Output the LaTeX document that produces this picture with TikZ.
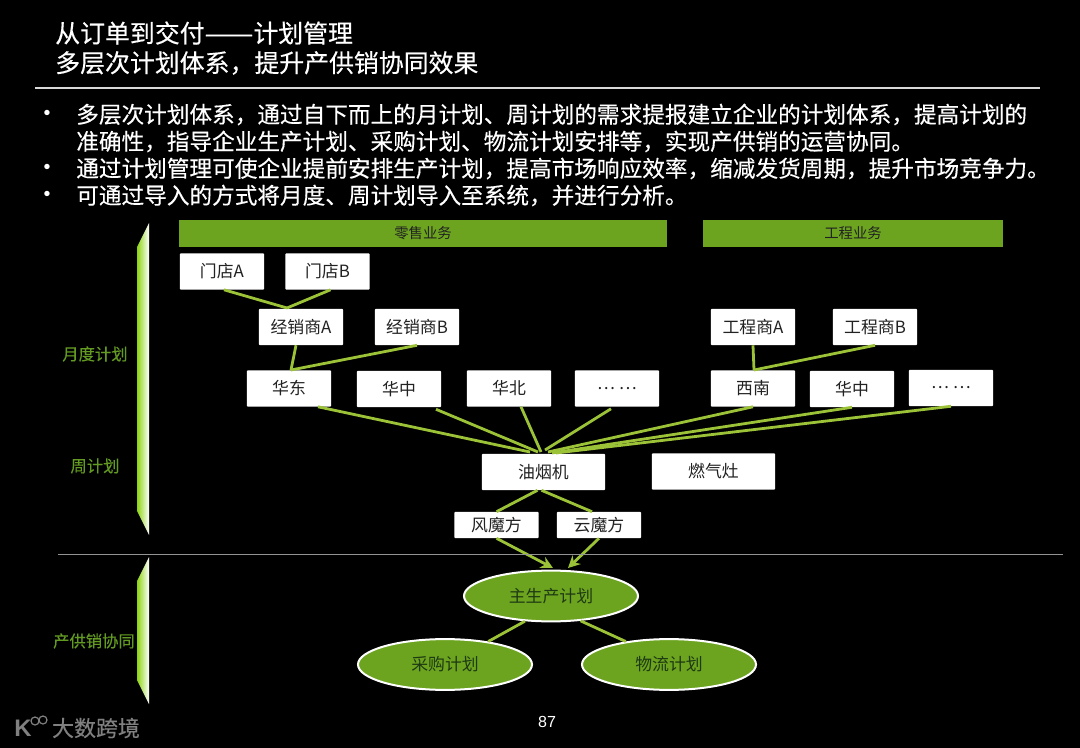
\documentclass[tikz,border=0pt]{standalone}
\usepackage{fontspec}
\setmainfont{Noto Sans CJK SC}
\newfontfamily\latinfont{Liberation Sans}
\newfontfamily\heavyfont[FakeBold=0.35]{Noto Sans CJK SC}
\usetikzlibrary{shapes,shapes.geometric,arrows,positioning,calc,arrows.meta}
\definecolor{barGreen}{HTML}{6CA420}
\definecolor{lineGreen}{HTML}{9CC238}
\definecolor{limeGreen}{HTML}{8CD410}
\definecolor{labelGreen}{HTML}{639A22}
\definecolor{inkDark}{HTML}{222222}
\definecolor{inkGreen}{HTML}{1E3A12}

\begin{document}
\begin{tikzpicture}[
    x=0.025cm, y=-0.025cm,
    every node/.style={font=\fontsize{12pt}{14pt}\selectfont},
    box/.style={rectangle, fill=white, text=inkDark, inner sep=0pt, minimum width=2.1cm, minimum height=0.9cm, rounded corners=0.5pt},
    bigbox/.style={box, minimum width=3.08cm},
    smallbox/.style={box, minimum height=0.65cm},
    header/.style={rectangle, fill=barGreen, text=inkDark, inner sep=0pt, minimum height=0.675cm, font=\fontsize{10.2pt}{12pt}\selectfont},
    plan/.style={ellipse, draw=white, line width=0.05cm, fill=barGreen, text=inkGreen, inner sep=0pt, minimum width=4.35cm, minimum height=1.27cm},
    side/.style={text=labelGreen, inner sep=0pt, font=\heavyfont\fontsize{11.6pt}{13pt}\selectfont},
    title/.style={anchor=west, text=white, inner sep=0pt, font=\heavyfont\fontsize{17.7pt}{20pt}\selectfont},
    bullet/.style={anchor=west, text=white, inner sep=0pt, font=\heavyfont\fontsize{16.1pt}{18pt}\selectfont},
    dotmark/.style={anchor=center, text=white, inner sep=0pt, font=\latinfont\fontsize{14pt}{16pt}\selectfont},
    link/.style={lineGreen, line width=0.07cm},
    arrow/.style={link, -{Stealth[length=0.3cm, width=0.3cm]}},
    sidebar/.style={left color=limeGreen, middle color=limeGreen!75!white, right color=white}
]
\fill[black] (0,0) rectangle (1080,748);
\useasboundingbox (0,0) rectangle (1080,748);

% Title
\node[title] (title1) at (55,33) {从订单到交付\scalebox{1.17}[1]{——}计划管理};
\node[title] (title2) at (55,63) {多层次计划体系，提升产供销协同效果};
\draw[white!85!black, line width=0.035cm] (35,88) -- (1040,88);

% Bullet text
\node[dotmark] (dot1) at (47,115) {•};
\node[dotmark] (dot2) at (47,169) {•};
\node[dotmark] (dot3) at (47,196) {•};
\node[bullet] (line1) at (76,114.5) {多层次计划体系，通过自下而上的月计划、周计划的需求提报建立企业的计划体系，提高计划的};
\node[bullet] (line2) at (76,141.5) {准确性，指导企业生产计划、采购计划、物流计划安排等，实现产供销的运营协同。};
\node[bullet] (line3) at (76,168.5) {通过计划管理可使企业提前安排生产计划，提高市场响应效率，缩减发货周期，提升市场竞争力。};
\node[bullet] (line4) at (76,195.5) {可通过导入的方式将月度、周计划导入至系统，并进行分析。};

% Side bars
\shade[sidebar] (149,223) -- (137,247) -- (137,511) -- (149,535) -- cycle;
\shade[sidebar] (149,557) -- (137,581) -- (137,680) -- (149,704) -- cycle;
\node[side] (monthly) at (95,354) {月度计划};
\node[side] (weekly) at (95,466) {周计划};
\node[side] (synergy) at (94,641) {产供销协同};

% Business headers
\node[header, minimum width=12.2cm] (retail) at (423,233.5) {零售业务};
\node[header, minimum width=7.5cm] (project) at (853,233.5) {工程业务};

% Main components
\node[box] (storeA) at (222,271.5) {门店A};
\node[box] (storeB) at (327.5,271.5) {门店B};
\node[box] (dealerA) at (301,327) {经销商A};
\node[box] (dealerB) at (417,327) {经销商B};
\node[box] (contractorA) at (753,327) {工程商A};
\node[box] (contractorB) at (875,327) {工程商B};
\node[box] (east) at (289,388.5) {华东};
\node[box] (central) at (399,389) {华中};
\node[box] (north) at (509,388.5) {华北};
\node[box] (moreA) at (617,388.5) {… …};
\node[box] (southwest) at (753,388.5) {西南};
\node[box] (centralB) at (852,389) {华中};
\node[box] (moreB) at (951,388) {… …};
\node[bigbox] (hood) at (543.5,472) {油烟机};
\node[bigbox] (stove) at (713.5,471.5) {燃气灶};
\node[smallbox] (wind) at (496.5,525) {风魔方};
\node[smallbox] (cloud) at (599,525) {云魔方};
\node[plan] (master) at (551,596) {\raisebox{-1pt}{主生产计划}};
\node[plan] (purchase) at (445,664.5) {\raisebox{-1pt}{采购计划}};
\node[plan] (logistics) at (669,664.5) {\raisebox{-1pt}{物流计划}};

% Meeting points of the links
\coordinate (dealerTop) at (287,308);
\coordinate (eastTop) at (291,370);
\coordinate (swTop) at (754,370);
\coordinate (hubA) at (530,452);
\coordinate (hubB) at (538,452);
\coordinate (hubC) at (541,452);
\coordinate (hubD) at (545,450);
\coordinate (hubE) at (548,452);
\coordinate (hubF) at (552,453);
\coordinate (hubG) at (556,453);
\coordinate (masterL) at (553,568);
\coordinate (masterR) at (568,568);

% Links
\draw[link] ($(storeA.south)+(2,0)$) -- (dealerTop);
\draw[link] ($(storeB.south)+(3,0)$) -- (dealerTop);
\draw[link] ($(dealerA.south)+(-5,0)$) -- (eastTop);
\draw[link] (dealerB.south) -- (eastTop);
\draw[link] (contractorA.south) -- (swTop);
\draw[link] (contractorB.south) -- (swTop);
\draw[link] ($(east.south)+(29,0)$) -- (hubA);
\draw[link] ($(central.south)+(37,2)$) -- (hubB);
\draw[link] ($(north.south)+(12,0)$) -- (hubC);
\draw[link] ($(moreA.south)+(-6,2)$) -- (hubD);
\draw[link] (southwest.south) -- (hubE);
\draw[link] (centralB.south) -- (hubF);
\draw[link] (moreB.south) -- (hubG);
\draw[link] ($(hood.south)+(-6,0)$) -- (wind.north);
\draw[link] ($(hood.south)+(-2,0)$) -- ($(cloud.north)+(-7,0)$);
\draw[arrow] (wind.south) -- (masterL);
\draw[arrow] (cloud.south) -- (masterR);
\draw[link] (master.224) -- (purchase.28);
\draw[link] (master.320) -- (logistics.152);

% Divider
\draw[gray!85, line width=0.025cm] (58,554) -- (1063,554);

% Page number and mark
\node[text=white, inner sep=0pt, font=\latinfont\fontsize{11.4pt}{13pt}\selectfont] (page) at (547,722) {87};
\node[text=gray, inner sep=0pt, font=\heavyfont\fontsize{15.6pt}{17pt}\selectfont] (brand) at (96,728) {大数跨境};
\node[text=gray, inner sep=0pt, font=\latinfont\bfseries\fontsize{17pt}{19pt}\selectfont] (markK) at (23,728) {K};
\node[draw=gray, circle, line width=0.03cm, minimum size=0.2cm, inner sep=0pt] (markA) at (35,721) {};
\node[draw=gray, circle, line width=0.03cm, minimum size=0.2cm, inner sep=0pt] (markB) at (43,720) {};
\end{tikzpicture}
\end{document}
